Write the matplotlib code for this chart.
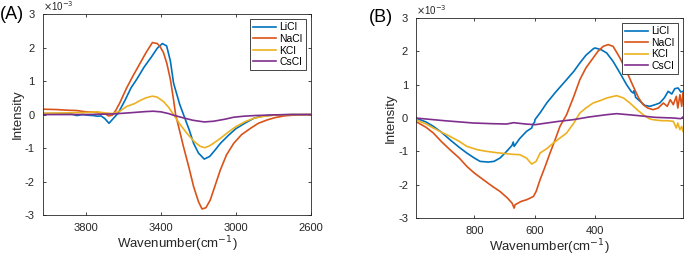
import matplotlib
matplotlib.use('Agg')
import matplotlib.pyplot as plt

plt.rcParams['font.family'] = ['Liberation Sans', 'DejaVu Sans']

# colours (MATLAB defaults)
c_li = '#0072BD'
c_na = '#D95319'
c_k = '#EDB120'
c_cs = '#7E2F8E'

labels = ['LiCl', 'NaCl', 'KCl', 'CsCl']

# ---- panel A : O-H stretching region (values in units of 1e-3) ----
a_li_x = [4030, 3950, 3880, 3850, 3820, 3790, 3760, 3740, 3720, 3700, 3678,
          3660, 3628, 3590, 3560, 3530, 3490, 3450, 3420, 3393, 3370, 3350,
          3333, 3300, 3280, 3250, 3226, 3200, 3169, 3140, 3110, 3083, 3040,
          3000, 2950, 2904, 2870, 2833, 2780, 2700, 2600]
a_li_y = [0.03, 0.03, 0.02, -0.03, 0.0, -0.02, -0.03, -0.05, -0.04, -0.12, -0.26,
          -0.15, 0.05, 0.45, 0.8, 1.05, 1.42, 1.73, 1.98, 2.12, 2.05, 1.6,
          0.94, 0.3, 0.0, -0.45, -0.86, -1.15, -1.33, -1.25, -1.05, -0.86, -0.62,
          -0.42, -0.25, -0.11, -0.06, -0.03, -0.01, 0.0, 0.0]

a_na_x = [4030, 3960, 3900, 3850, 3800, 3760, 3720, 3700, 3680, 3660, 3640,
          3620, 3584, 3550, 3512, 3480, 3446, 3420, 3405, 3387, 3369, 3350,
          3333, 3322, 3300, 3280, 3250, 3226, 3200, 3181, 3160, 3137, 3110,
          3083, 3050, 3012, 2970, 2922, 2880, 2833, 2790, 2743, 2680, 2600]
a_na_y = [0.16, 0.15, 0.13, 0.12, 0.08, 0.07, 0.05, 0.03, -0.04, -0.02, 0.14,
          0.35, 0.79, 1.15, 1.53, 1.85, 2.15, 2.12, 2.03, 1.85, 1.53, 1.05,
          0.44, 0.0, -0.5, -0.96, -1.6, -2.15, -2.6, -2.82, -2.78, -2.55, -2.1,
          -1.65, -1.2, -0.86, -0.6, -0.41, -0.26, -0.16, -0.09, -0.04, -0.01, 0.0]

a_k_x = [4030, 3900, 3800, 3740, 3700, 3660, 3620, 3584, 3540, 3512, 3480,
         3446, 3420, 3387, 3360, 3333, 3300, 3262, 3220, 3190, 3166, 3140,
         3110, 3083, 3040, 3000, 2950, 2904, 2850, 2800, 2700, 2600]
a_k_y = [0.04, 0.05, 0.06, 0.08, 0.05, 0.03, 0.1, 0.24, 0.33, 0.42, 0.5,
         0.55, 0.52, 0.39, 0.22, 0.0, -0.28, -0.56, -0.82, -0.95, -0.99, -0.93,
         -0.82, -0.71, -0.52, -0.36, -0.21, -0.11, -0.05, -0.02, 0.0, 0.0]

a_cs_x = [4030, 3800, 3650, 3550, 3480, 3440, 3400, 3360, 3333, 3280, 3230,
          3170, 3120, 3060, 3012, 2960, 2900, 2800, 2700, 2600]
a_cs_y = [0.0, 0.0, 0.02, 0.06, 0.09, 0.1, 0.08, 0.03, -0.02, -0.1, -0.17,
          -0.22, -0.2, -0.14, -0.08, -0.05, -0.03, -0.01, 0.0, 0.0]

# ---- panel B : low wavenumber region (values in units of 1e-3) ----
b_li_x = [995, 960, 936, 910, 881, 850, 825, 800, 781, 754, 735, 715, 695,
          675, 671, 668, 650, 627, 610, 605, 600, 599, 580, 560, 530, 494, 470,
          450, 430, 406, 400, 380, 361, 340, 317, 295, 280, 273, 270, 265, 250,
          235, 218, 200, 185, 170, 157, 145, 135, 124, 115, 108]
b_li_y = [0.0, -0.12, -0.25, -0.42, -0.65, -0.88, -1.05, -1.2, -1.3, -1.32, -1.3,
          -1.2, -1.02, -0.82, -0.72, -0.85, -0.62, -0.4, -0.3, -0.18, -0.12, -0.05,
          0.18, 0.45, 0.78, 1.15, 1.4, 1.65, 1.88, 2.07, 2.1, 2.05, 1.95, 1.7,
          1.35, 1.0, 0.8, 0.75, 0.82, 0.62, 0.5, 0.38, 0.35, 0.4, 0.45, 0.6,
          0.8, 0.72, 0.88, 0.9, 0.78, 0.8]

b_na_x = [995, 960, 936, 910, 881, 850, 825, 800, 770, 740, 715, 690, 675,
          668, 665, 655, 645, 627, 615, 604, 595, 582, 565, 549, 530, 516, 494,
          470, 450, 430, 406, 390, 372, 356, 340, 330, 317, 295, 273, 255, 240,
          225, 207, 190, 173, 160, 150, 140, 130, 125, 118, 112, 108]
b_na_y = [-0.1, -0.28, -0.45, -0.7, -0.95, -1.2, -1.45, -1.65, -1.85, -2.05, -2.2,
          -2.4, -2.55, -2.7, -2.6, -2.55, -2.5, -2.45, -2.4, -2.35, -2.2, -1.85,
          -1.45, -1.05, -0.6, -0.25, 0.1, 0.65, 1.15, 1.5, 1.8, 2.0, 2.15, 2.2,
          2.15, 2.0, 1.8, 1.4, 0.95, 0.6, 0.4, 0.3, 0.25, 0.3, 0.45, 0.35,
          0.55, 0.4, 0.65, 0.3, 0.7, 0.35, 0.75]

b_k_x = [995, 960, 936, 910, 881, 850, 825, 790, 759, 725, 693, 670, 649,
          627, 610, 595, 582, 560, 538, 516, 494, 470, 450, 430, 406, 380, 361,
          328, 305, 284, 260, 240, 220, 207, 180, 160, 140, 130, 125, 118, 112,
          108]
b_k_y = [-0.05, -0.18, -0.3, -0.42, -0.55, -0.7, -0.85, -0.95, -1.0, -1.04, -1.07,
          -1.09, -1.1, -1.2, -1.38, -1.3, -1.05, -0.92, -0.75, -0.6, -0.45, -0.15,
          0.15, 0.3, 0.45, 0.53, 0.6, 0.67, 0.6, 0.45, 0.25, 0.1, -0.02, -0.05,
          -0.08, -0.08, -0.1, -0.3, -0.15, -0.35, -0.25, -0.4]

b_cs_x = [995, 900, 803, 740, 693, 670, 650, 630, 599, 560, 520, 472, 420,
          361, 328, 290, 254, 200, 140, 115, 108]
b_cs_y = [0.0, -0.08, -0.15, -0.17, -0.18, -0.14, -0.16, -0.18, -0.2, -0.15, -0.1,
          -0.05, 0.03, 0.1, 0.13, 0.1, 0.07, 0.02, 0.0, -0.02, 0.03]

fig = plt.figure(figsize=(6.85, 2.56), dpi=100)
axA = fig.add_axes([0.0628, 0.160, 0.391, 0.785])
axB = fig.add_axes([0.608, 0.148, 0.389, 0.782])

def style(ax, xticks):
  ax.set_ylim(-3, 3)
  ax.set_yticks([-3, -2, -1, 0, 1, 2, 3])
  ax.set_yticklabels(['-3', '-2', '-1', '0', '1', '2', '3'])
  ax.set_xticks(xticks)
  ax.tick_params(direction='in', top=True, right=True, labelsize=8,
                 colors='#262626', length=2.5, width=0.6, pad=6)
  for s in ax.spines.values():
    s.set_color('#262626')
    s.set_linewidth(0.6)
  ax.set_xlabel('Wavenumber(cm$^{-1}$)', fontsize=9.5, color='#262626', labelpad=0.5)
  ax.set_ylabel('Intensity', fontsize=9.5, color='#262626', labelpad=1)
  ax.text(0.0, 1.005, r'$\times$10$^{-3}$', transform=ax.transAxes, fontsize=7,
          color='#262626', ha='left', va='bottom')
  leg = ax.legend(loc='upper right', fontsize=7.5, handlelength=2.2,
                  handletextpad=0.3, borderpad=0.3, labelspacing=0.15,
                  fancybox=False, framealpha=1, borderaxespad=0.5)
  leg.get_frame().set_edgecolor('#262626')
  leg.get_frame().set_linewidth(0.6)

lw = 1.2
axA.plot(a_li_x, a_li_y, color=c_li, lw=lw, label=labels[0])
axA.plot(a_na_x, a_na_y, color=c_na, lw=lw, label=labels[1])
axA.plot(a_k_x, a_k_y, color=c_k, lw=lw, label=labels[2])
axA.plot(a_cs_x, a_cs_y, color=c_cs, lw=lw, label=labels[3])
axA.set_xlim(4030, 2600)
style(axA, [3800, 3400, 3000, 2600])

axB.plot(b_li_x, b_li_y, color=c_li, lw=lw, label=labels[0])
axB.plot(b_na_x, b_na_y, color=c_na, lw=lw, label=labels[1])
axB.plot(b_k_x, b_k_y, color=c_k, lw=lw, label=labels[2])
axB.plot(b_cs_x, b_cs_y, color=c_cs, lw=lw, label=labels[3])
axB.set_xlim(992, 108)
style(axB, [800, 600, 400])

fig.text(0.0, 0.945, '(A)', fontsize=13, color='black', ha='left', va='center')
fig.text(0.538, 0.93, '(B)', fontsize=13, color='black', ha='left', va='center')

fig.savefig('out.png', dpi=100)
